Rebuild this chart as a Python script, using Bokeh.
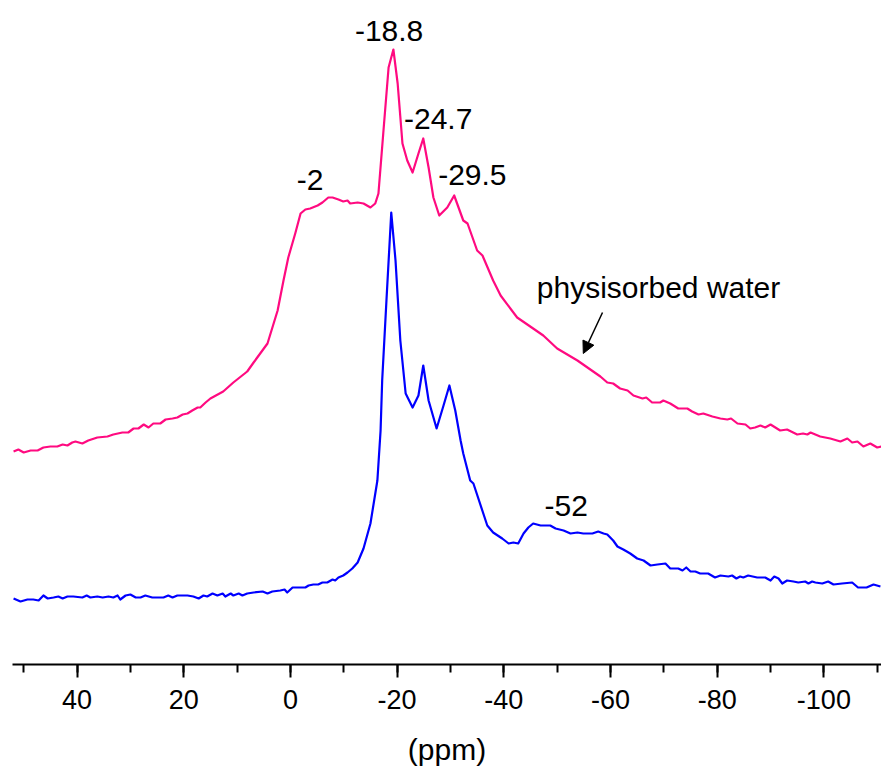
from bokeh.plotting import figure
from bokeh.models import Range1d, Label, Arrow, NormalHead, SingleIntervalTicker, PrintfTickFormatter
from bokeh.embed import file_html
from bokeh.resources import INLINE

# Chemical shift (ppm) and intensity (a.u.)
ppm_top = [51.9, 51.0, 50.0, 48.7, 47.4, 46.3, 45.0, 43.7, 42.7, 41.8,
           40.9, 40.3, 39.0, 37.9, 36.2, 34.3, 33.2, 31.5, 30.4, 29.4,
           28.5, 27.5, 26.6, 25.7, 24.4, 23.4, 22.1, 21.2, 20.2, 19.3,
           18.4, 17.4, 16.9, 15.9, 15.0, 12.6, 10.7, 8.1, 6.9, 4.3,
           2.4, 1.3, 0.4, -0.9, -1.9, -2.8, -3.7, -5.1, -6.0, -7.1,
           -7.9, -9.0, -9.9, -10.7, -11.2, -12.6, -13.7, -15.0, -15.9, -16.5,
           -17.4, -18.4, -19.3, -20.1, -21.0, -21.9, -22.9, -24.0, -24.9, -25.9,
           -26.8, -27.9, -29.4, -30.7, -32.4, -33.2, -35.0, -36.0, -38.0, -39.4,
           -42.5, -45.5, -47.4, -50.0, -53.8, -58.1, -59.4, -60.5, -61.8, -63.2,
           -64.3, -66.0, -66.7, -67.8, -69.3, -69.9, -71.2, -72.7, -74.4, -75.3,
           -76.5, -77.4, -79.1, -80.6, -81.9, -82.6, -83.8, -85.3, -86.2, -87.1,
           -88.1, -89.0, -90.0, -91.8, -93.1, -95.0, -96.1, -96.9, -97.5, -99.3,
           -101.2, -103.1, -104.4, -105.3, -106.3, -107.4, -108.7, -110.0, -110.8]
int_top = [213, 215, 212, 214, 214, 217, 218, 218, 220, 219,
           222, 223, 221, 224, 227, 228, 230, 232, 232, 236,
           236, 240, 237, 241, 241, 245, 246, 247, 250, 251,
           254, 257, 257, 262, 266, 273, 282, 293, 302, 321,
           354, 384, 407, 431, 451, 455, 456, 459, 462, 467,
           467, 465, 463, 464, 461, 462, 461, 457, 461, 471,
           531, 597, 615, 581, 521, 504, 492, 511, 526, 497,
           467, 449, 457, 469, 444, 441, 414, 409, 384, 369,
           347, 336, 329, 316, 304, 288, 282, 281, 276, 274,
           269, 266, 267, 262, 262, 264, 261, 256, 256, 253,
           250, 251, 248, 246, 245, 246, 241, 240, 236, 237,
           239, 237, 240, 234, 235, 230, 231, 230, 232, 228,
           226, 223, 226, 222, 223, 218, 221, 217, 218]

ppm_bottom = [51.9, 50.6, 49.3, 48.2, 47.2, 46.3, 45.5, 44.4, 43.5, 42.7,
              41.8, 40.7, 39.0, 38.2, 37.5, 36.2, 35.2, 34.1, 33.2, 32.4,
              31.9, 30.9, 30.0, 29.0, 28.1, 27.2, 25.9, 24.9, 23.8, 22.9,
              22.1, 21.2, 20.6, 19.3, 18.2, 17.2, 16.3, 15.6, 14.6, 13.7,
              12.7, 12.2, 11.2, 10.7, 9.7, 9.0, 8.1, 6.9, 5.2, 4.3,
              3.4, 1.9, 1.1, 0.6, -0.4, -1.9, -2.8, -3.4, -4.3, -5.2,
              -6.0, -6.9, -7.9, -8.4, -9.0, -9.9, -10.7, -11.6, -12.6, -13.7,
              -15.0, -16.3, -16.9, -17.2, -18.0, -18.9, -19.7, -20.6, -21.6, -22.9,
              -24.0, -24.9, -25.9, -27.4, -28.7, -29.8, -30.9, -31.9, -32.4, -33.7,
              -34.3, -36.9, -38.0, -39.7, -40.9, -41.8, -42.7, -43.7, -44.6, -45.5,
              -46.9, -48.7, -49.7, -51.2, -52.5, -53.8, -54.9, -56.6, -57.7, -58.7,
              -59.4, -60.5, -61.3, -62.4, -63.7, -65.0, -66.2, -67.5, -68.8, -70.3,
              -71.2, -72.7, -73.5, -74.2, -75.0, -75.9, -76.8, -78.3, -79.6, -80.6,
              -82.1, -82.8, -83.6, -84.3, -84.9, -85.8, -87.5, -89.0, -90.0, -90.7,
              -91.5, -92.2, -93.1, -94.3, -95.2, -96.5, -97.1, -97.8, -98.4, -99.7,
              -100.8, -101.8, -103.4, -105.3, -106.4, -108.0, -109.3, -110.6]
int_bottom = [66, 63, 65, 65, 64, 69, 66, 67, 68, 66,
              68, 68, 67, 69, 67, 68, 67, 68, 67, 69,
              65, 69, 70, 67, 67, 69, 67, 67, 67, 69,
              67, 69, 69, 69, 68, 66, 69, 68, 71, 69,
              71, 68, 71, 69, 71, 69, 71, 72, 73, 71,
              73, 74, 75, 72, 77, 77, 77, 79, 80, 80,
              82, 82, 85, 84, 87, 89, 92, 96, 102, 116,
              141, 184, 234, 284, 364, 452, 404, 324, 271, 257,
              269, 299, 264, 236, 259, 279, 254, 224, 211, 184,
              181, 139, 132, 126, 121, 122, 121, 131, 137, 141,
              139, 139, 136, 134, 131, 132, 131, 131, 133, 131,
              130, 124, 118, 115, 111, 106, 104, 99, 100, 101,
              96, 96, 94, 97, 93, 93, 91, 91, 87, 89,
              88, 89, 86, 88, 87, 89, 87, 87, 84, 88,
              86, 81, 84, 83, 82, 83, 81, 83, 82, 81,
              83, 80, 81, 82, 77, 77, 80, 78]

peak_labels = ["-18.8", "-24.7", "-29.5", "-2", "-52"]
peak_label_x = [-18.5, -27.7, -34.1, -3.7, -51.7]
peak_label_y = [634, 546, 490, 485, 159]

note_text = "physisorbed water"
note_x, note_y = -69.0, 377
arrow_start = (-58.5, 352)
arrow_end = (-54.9, 311)

FONT = "Liberation Sans"

p = figure(width=881, height=769, output_backend="svg", toolbar_location=None,
           x_range=Range1d(52.1, -110.8), y_range=Range1d(0, 664),
           min_border_left=12, min_border_right=0, min_border_top=0,
           min_border_bottom=105)
p.outline_line_color = None
p.grid.visible = False
p.yaxis.visible = False
p.background_fill_color = "white"
p.border_fill_color = "white"

p.line(ppm_top, int_top, line_color="#FF0A80", line_width=2.2, line_join="round")
p.line(ppm_bottom, int_bottom, line_color="#0000FF", line_width=2.2, line_join="round")

xa = p.xaxis[0]
xa.ticker = SingleIntervalTicker(interval=20, num_minor_ticks=2)
xa.formatter = PrintfTickFormatter(format="%d")
xa.axis_line_width = 2
xa.major_tick_line_width = 2
xa.minor_tick_line_width = 2
xa.major_tick_in = 0
xa.major_tick_out = 13
xa.minor_tick_in = 0
xa.minor_tick_out = 8
xa.major_label_text_font = FONT
xa.major_label_text_font_size = "27px"
xa.major_label_text_color = "black"
xa.major_label_standoff = 12
xa.axis_label = "(ppm)"
xa.axis_label_text_font = FONT
xa.axis_label_text_font_size = "30px"
xa.axis_label_text_font_style = "normal"
xa.axis_label_text_color = "black"
xa.axis_label_standoff = 21

for t, x, y in zip(peak_labels, peak_label_x, peak_label_y):
    p.add_layout(Label(x=x, y=y, text=t, text_align="center", text_baseline="middle",
                       text_font=FONT, text_font_size="30px", text_color="black"))

p.add_layout(Label(x=note_x, y=note_y, text=note_text, text_align="center",
                   text_baseline="middle", text_font=FONT, text_font_size="30px",
                   text_color="black"))
p.add_layout(Arrow(end=NormalHead(size=12, fill_color="black", line_color="black"),
                   x_start=arrow_start[0], y_start=arrow_start[1],
                   x_end=arrow_end[0], y_end=arrow_end[1],
                   line_color="black", line_width=1.5))

open("out.html", "w").write(file_html(p, INLINE))
